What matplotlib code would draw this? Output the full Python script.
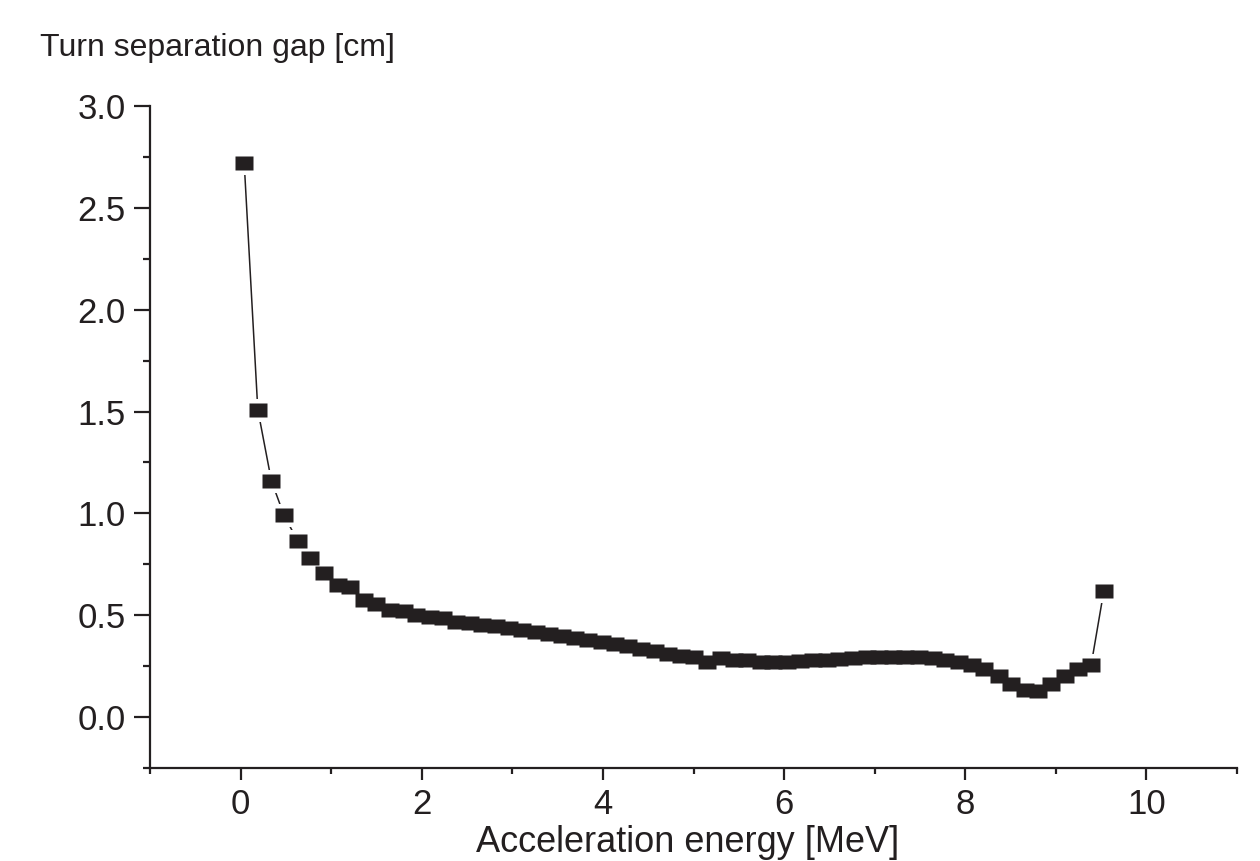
import matplotlib
matplotlib.use("Agg")
import matplotlib.pyplot as plt
from matplotlib.ticker import MultipleLocator

plt.rcParams["font.family"] = ["Liberation Sans", "DejaVu Sans"]

# acceleration energy [MeV] of each turn
energy = [0.04, 0.19, 0.34, 0.48, 0.63, 0.77, 0.92, 1.07, 1.21, 1.36,
          1.50, 1.65, 1.80, 1.94, 2.09, 2.23, 2.38, 2.53, 2.67, 2.82,
          2.96, 3.11, 3.26, 3.40, 3.55, 3.69, 3.84, 3.99, 4.13, 4.28,
          4.42, 4.57, 4.72, 4.86, 5.01, 5.15, 5.30, 5.45, 5.59, 5.74,
          5.88, 6.03, 6.18, 6.32, 6.47, 6.61, 6.76, 6.91, 7.05, 7.20,
          7.34, 7.49, 7.64, 7.78, 7.93, 8.07, 8.21, 8.37, 8.51, 8.66,
          8.80, 8.95, 9.10, 9.24, 9.39, 9.53]

# turn separation gap [cm]
gap = [2.72, 1.51, 1.16, 0.99, 0.865, 0.78, 0.707, 0.648, 0.64, 0.577,
       0.555, 0.525, 0.52, 0.50, 0.49, 0.485, 0.465, 0.46, 0.452, 0.445,
       0.435, 0.428, 0.42, 0.41, 0.40, 0.39, 0.38, 0.37, 0.36, 0.35,
       0.335, 0.325, 0.31, 0.30, 0.295, 0.27, 0.29, 0.28, 0.28, 0.272,
       0.27, 0.272, 0.275, 0.278, 0.282, 0.285, 0.29, 0.293, 0.295, 0.295,
       0.295, 0.293, 0.288, 0.281, 0.27, 0.254, 0.235, 0.20, 0.163, 0.131,
       0.128, 0.16, 0.204, 0.237, 0.256, 0.62]

ink = "#231f20"
box = [(-0.64, -0.5), (0.64, -0.5), (0.64, 0.5), (-0.64, 0.5)]

fig = plt.figure(figsize=(12.6, 8.61), dpi=100)
ax = fig.add_axes([150 / 1260, 1 - 768 / 861, 1087 / 1260, 662 / 861])

# thin connecting line, then white-edged squares to leave a gap round each point
ax.plot(energy, gap, color=ink, lw=1.1, zorder=1)
ax.plot(energy, gap, ls="none", marker=box, ms=13, mfc="white", mec="white",
        mew=6.5, zorder=2)
ax.plot(energy, gap, ls="none", marker=box, ms=13, mfc=ink, mec="none",
        zorder=3)

ax.set_xlim(-1, 11)
ax.set_ylim(-0.25, 3.0)
ax.xaxis.set_major_locator(MultipleLocator(2))
ax.xaxis.set_minor_locator(MultipleLocator(1))
ax.yaxis.set_major_locator(MultipleLocator(0.5))
ax.yaxis.set_minor_locator(MultipleLocator(0.25))
ax.xaxis.set_major_formatter(lambda v, p: f"{v:.0f}")
ax.yaxis.set_major_formatter(lambda v, p: f"{v:.1f}")

for side in ["top", "right"]:
    ax.spines[side].set_visible(False)
for side in ["left", "bottom"]:
    ax.spines[side].set_linewidth(1.6)
    ax.spines[side].set_color(ink)

ax.tick_params(axis="x", which="major", direction="out", length=8.6, width=1.6,
               pad=6, labelsize=25, colors=ink)
ax.tick_params(axis="x", which="minor", direction="out", length=4, width=1.6,
               colors=ink)
ax.tick_params(axis="y", which="major", direction="out", length=11.5, width=1.6,
               pad=6, labelsize=25, colors=ink)
ax.tick_params(axis="y", which="minor", direction="out", length=5.4, width=1.6,
               colors=ink)

fig.text(40 / 1260, 1 - 48 / 861, "Turn separation gap [cm]", fontsize=23,
         color=ink, ha="left", va="center")
fig.text(688 / 1260, 1 - 842 / 861, "Acceleration energy [MeV]", fontsize=26,
         color=ink, ha="center", va="center")

fig.savefig("out.png", dpi=100)
